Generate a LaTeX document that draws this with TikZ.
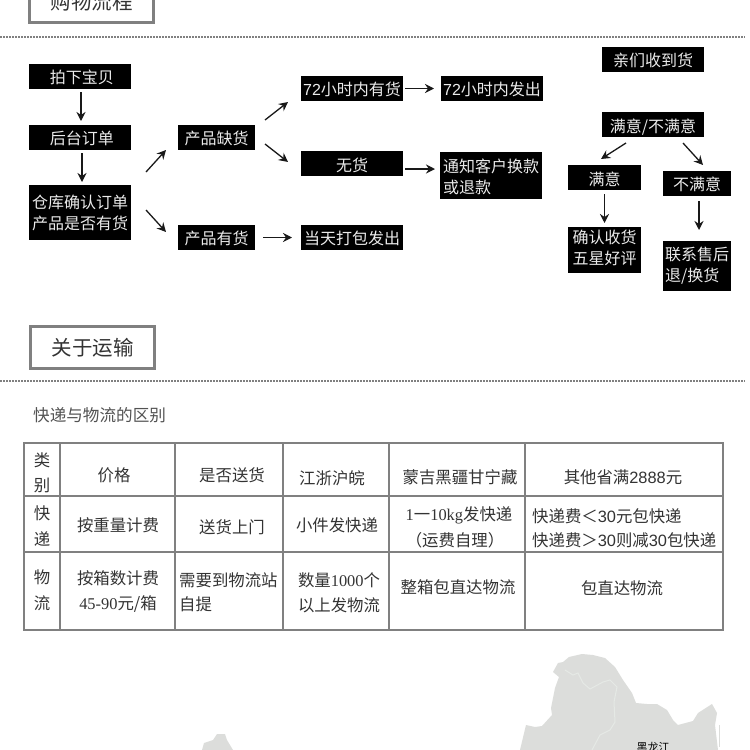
\documentclass[tikz,border=0pt]{standalone}
\usepackage{fontspec}
\setmainfont{Noto Sans CJK SC}
\newfontfamily\serifnum{Liberation Serif}
\newfontfamily\sansnum{Liberation Sans}
\usetikzlibrary{positioning,arrows.meta}
\definecolor{rulegray}{HTML}{808080}
\definecolor{inkgray}{HTML}{333333}
\definecolor{mapgray}{HTML}{DCDDDB}
\definecolor{rivergray}{HTML}{E5E9E5}

\begin{document}
\begin{tikzpicture}[
  x=1pt, y=-1pt,
  blk/.style={fill=black, text=white!92!black, inner sep=0pt, outer sep=0pt, align=left,
              font=\fontsize{16}{21}\selectfont, minimum height=25pt, minimum width=102pt},
  mid/.style={blk, minimum width=77pt},
  nar/.style={blk, minimum width=73pt},
  slim/.style={blk, minimum width=68pt},
  low/.style={text height=14pt, text depth=0pt},
  lower/.style={text height=16pt, text depth=0pt},
  title/.style={draw=rulegray, line width=3pt, text=inkgray, minimum width=124pt, minimum height=42pt,
                inner sep=0pt, font=\fontsize{20.5}{24}\selectfont},
  ar/.style={-{Stealth[length=3.2mm, width=3.2mm, inset=1.1mm]}, line width=1.3pt, draw=black!90},
  dots/.style={rulegray, line width=1.2pt, dash pattern=on 1.5pt off 1.5pt},
  grid/.style={rulegray, line width=2pt, line cap=rect},
  cell/.style={text=inkgray, inner sep=0pt, font=\fontsize{16.4}{21}\selectfont}
]
\clip (0,0) rectangle (750,750);
\fill[white] (0,0) rectangle (750,750);

% section headers
\node[title] (shop) at (91.5,1.5) {购物流程};
\node[title] (ship) at (92.5,347.5) {关于运输};
\draw[dots] (0,37) -- (745,37);
\draw[dots] (0,381) -- (745,381);

% left flow
\node[blk, low] (pai) at (80,76.5) {\ 拍下宝贝};
\node[blk, low, below=36pt of pai] (hou) {\ 后台订单};
\node[blk, below=35pt of hou, minimum height=55pt] (cang) {仓库确认订单\\产品是否有货};
\node[mid, low, right=47pt of hou] (que) {产品缺货};
\node[mid, low, below=75pt of que] (you) {产品有货};
\node[blk, lower, right=46pt of que, yshift=-26pt, align=center] (wu) {无货};
\node[blk, low, above=50pt of wu] (yes72) {{\sansnum 72}小时内有货};
\node[blk, low, right=46pt of you] (dang) {当天打包发出};
\node[blk, low, right=38pt of yes72] (out72) {{\sansnum 72}小时内发出};
\node[blk, right=37pt of wu, yshift=-12pt, minimum height=47pt, text height=37pt, text depth=2pt] (tong) {通知客户换款\\或退款};

% right flow
\node[blk, low] (qin) at (653,59.5) {亲们收到货};
\node[blk, lower, below=40pt of qin] (manbu) {满意/不满意};
\node[nar, lower, below=28pt of manbu, xshift=-48.5pt] (man) {满意};
\node[slim, low, below=34pt of manbu, xshift=44pt] (bu) {不满意};
\node[nar, below=37pt of man, minimum height=46pt, text height=35pt, text depth=6pt] (que2) {确认收货\\五星好评};
\node[slim, below=45pt of bu, minimum height=50pt] (lian) {联系售后\\退/换货};

\draw[ar] ([xshift=1pt,yshift=-3pt]pai.south) -- ([xshift=1pt,yshift=4pt]hou.north);
\draw[ar] ([xshift=2pt,yshift=-3pt]hou.south) -- ([xshift=2pt,yshift=3pt]cang.north);
\draw[ar] ([xshift=15pt,yshift=13pt]cang.north east) -- ([xshift=-12pt]que.south west);
\draw[ar] ([xshift=15pt,yshift=30pt]cang.south east) -- ([xshift=-12pt,yshift=-7pt]you.north west);
\draw[ar] ([xshift=10pt,yshift=5pt]que.north east) -- ([xshift=-13pt,yshift=-1pt]yes72.south west);
\draw[ar] ([xshift=10pt,yshift=6pt]que.south east) -- ([xshift=-13pt,yshift=-11pt]wu.north west);
\draw[ar, shorten <=8pt, shorten >=9pt] (you) -- (dang);
\draw[ar, shorten <=2pt, shorten >=7pt] (yes72) -- (out72);
\draw[ar] ([xshift=2pt,yshift=-5.5pt]wu.east) -- ([xshift=-5pt,yshift=6.5pt]tong.west);
\draw[ar] ([xshift=-27pt,yshift=-6pt]manbu.south) -- ([xshift=-3.5pt,yshift=6pt]man.north);
\draw[ar] ([xshift=30pt,yshift=-6pt]manbu.south) -- ([xshift=6pt,yshift=6pt]bu.north);
\draw[ar] ([yshift=-4pt]man.south) -- ([yshift=4pt]que2.north);
\draw[ar] ([xshift=2pt,yshift=-5pt]bu.south) -- ([xshift=2pt,yshift=11pt]lian.north);

% table
\node[cell, anchor=west, text=inkgray!85, font=\fontsize{16.6}{20}\selectfont] (diff) at (33,415) {快递与物流的区别};
\foreach \x in {24,60,175,283,389,525,723}
  \draw[grid] (\x,443) -- (\x,630);
\foreach \y in {443,496,552,630}
  \draw[grid] (24,\y) -- (723,\y);

\node[cell] (lei) at (42,460) {类};
\node[cell] (bie) at (42,485) {别};
\node[cell] (price) at (114,475) {价格};
\node[cell] (send) at (232,475) {是否送货};
\node[cell] (jiang) at (332,478) {江浙沪皖};
\node[cell] (meng) at (460,477) {蒙吉黑疆甘宁藏};
\node[cell] (other) at (623,477) {其他省满{\sansnum 2888}元};

\node[cell] (kuai) at (42,513) {快};
\node[cell] (di) at (42,539) {递};
\node[cell] (kprice) at (118,525) {按重量计费};
\node[cell] (ksend) at (232,527) {送货上门};
\node[cell] (kjiang) at (337,525) {小件发快递};
\node[cell] (kmeng) at (459,515) {{\serifnum 1}一{\serifnum 10kg}发快递};
\node[cell] (kself) at (455,540) {（运费自理）};
\node[cell, anchor=west] (kless) at (532,516) {快递费＜{\sansnum 30}元包快递};
\node[cell, anchor=west] (kmore) at (532,540) {快递费＞{\sansnum 30}则减{\sansnum 30}包快递};

\node[cell] (wuu) at (42,577) {物};
\node[cell] (liu) at (42,603) {流};
\node[cell] (wprice) at (118,578) {按箱数计费};
\node[cell] (wrate) at (118,604) {{\serifnum 45-90}元/箱};
\node[cell, anchor=west] (wsend) at (179,580) {需要到物流站};
\node[cell, anchor=west] (wself) at (179,604) {自提};
\node[cell] (wjiang) at (339,580) {数量{\serifnum 1000}个};
\node[cell] (wjiang2) at (339,605) {以上发物流};
\node[cell] (wmeng) at (458,587) {整箱包直达物流};
\node[cell] (wother) at (622,588) {包直达物流};

% map
\fill[mapgray] (520,750) -- (526,725) -- (535,727) -- (542,726) -- (552,715) -- (551,708) -- (555,688)
  -- (559,677) -- (553,672) -- (558,663) -- (563,662) -- (569,657) -- (582,654) -- (593,655) -- (605,658)
  -- (615,667) -- (623,680) -- (632,693) -- (636,703) -- (647,704) -- (657,704) -- (667,710) -- (673,720)
  -- (678,725) -- (693,721) -- (698,713) -- (712,704) -- (717,713) -- (715,725) -- (718,750) -- cycle;
\fill[mapgray] (202,750) -- (204,743) -- (213,740) -- (217,734) -- (225,734) -- (227,740) -- (233,750) -- cycle;
\draw[rivergray, line width=1pt] (565,670) -- (573,675) -- (578,673) -- (583,683) -- (590,689) -- (603,682)
  -- (610,680) -- (617,687) -- (614,702) -- (615,722) -- (610,730) -- (600,735) -- (592,750);
\draw[mapgray, line width=1pt] (719,725) -- (719,747);
\node[inner sep=0pt, font=\fontsize{11}{12}\selectfont] (hlj) at (653,747) {黑龙江};
\end{tikzpicture}
\end{document}
